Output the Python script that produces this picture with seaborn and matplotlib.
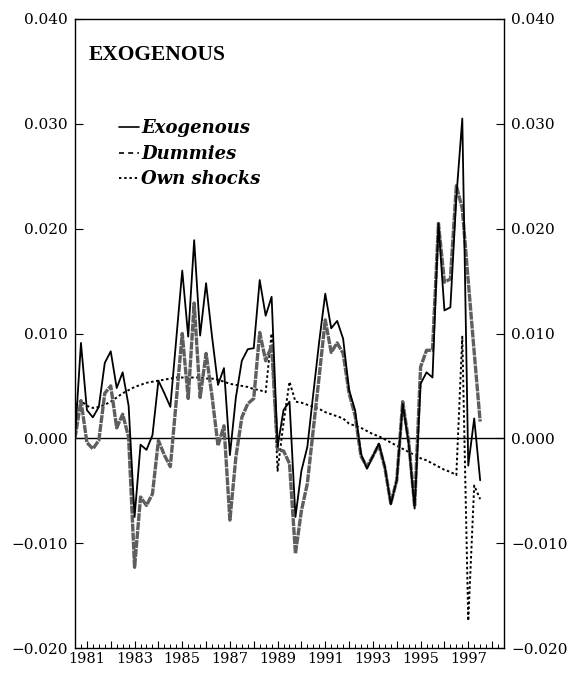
import numpy as np
import pandas as pd
import matplotlib
matplotlib.use("Agg")
import matplotlib.pyplot as plt
from matplotlib.lines import Line2D
from matplotlib.ticker import FixedLocator, MultipleLocator
import seaborn as sns

# Quarterly sample, 1980Q3 - 1997Q3
quarters = pd.period_range("1980Q3", "1997Q3", freq="Q")

exogenous = [
    0.0000, 0.0091, 0.0027, 0.0020, 0.0030, 0.0072, 0.0083, 0.0048, 0.0063, 0.0031,
    -0.0075, -0.0006, -0.0011, 0.0003, 0.0055, 0.0043, 0.0030, 0.0095, 0.0160, 0.0097,
    0.0189, 0.0098, 0.0148, 0.0097, 0.0051, 0.0067, -0.0016, 0.0039, 0.0074, 0.0085,
    0.0086, 0.0151, 0.0117, 0.0135, -0.0008, 0.0027, 0.0035, -0.0075, -0.0031, -0.0008,
    0.0043, 0.0093, 0.0138, 0.0105, 0.0112, 0.0095, 0.0046, 0.0027, -0.0015, -0.0029,
    -0.0017, -0.0005, -0.0027, -0.0063, -0.0040, 0.0033, -0.0005, -0.0067, 0.0052, 0.0063,
    0.0058, 0.0205, 0.0122, 0.0125, 0.0230, 0.0305, -0.0026, 0.0019, -0.0040,
]

dummies = [
    0.0000, 0.0036, -0.0004, -0.0010, -0.0002, 0.0043, 0.0050, 0.0010, 0.0023, 0.0001,
    -0.0123, -0.0056, -0.0064, -0.0053, -0.0002, -0.0016, -0.0027, 0.0036, 0.0100, 0.0038,
    0.0129, 0.0039, 0.0081, 0.0040, -0.0007, 0.0012, -0.0078, -0.0018, 0.0020, 0.0033,
    0.0038, 0.0101, 0.0074, 0.0088, -0.0011, -0.0012, -0.0024, -0.0110, -0.0069, -0.0043,
    0.0009, 0.0060, 0.0113, 0.0082, 0.0091, 0.0081, 0.0043, 0.0022, -0.0017, -0.0027,
    -0.0017, -0.0006, -0.0028, -0.0062, -0.0040, 0.0035, -0.0003, -0.0065, 0.0068, 0.0084,
    0.0084, 0.0205, 0.0149, 0.0152, 0.0241, 0.0219, 0.0150, 0.0082, 0.0016,
]

own_shocks = [
    0.0032, 0.0036, 0.0031, 0.0029, 0.0030, 0.0032, 0.0035, 0.0039, 0.0043, 0.0046,
    0.0049, 0.0051, 0.0053, 0.0054, 0.0055, 0.0056, 0.0057, 0.0058, 0.0058, 0.0058,
    0.0058, 0.0058, 0.0057, 0.0057, 0.0056, 0.0054, 0.0052, 0.0051, 0.0050, 0.0049,
    0.0047, 0.0046, 0.0044, 0.0100, -0.0031, 0.0015, 0.0054, 0.0035, 0.0034, 0.0032,
    0.0030, 0.0028, 0.0025, 0.0023, 0.0021, 0.0019, 0.0014, 0.0012, 0.0010, 0.0007,
    0.0004, 0.0002, -0.0001, -0.0004, -0.0007, -0.0010, -0.0013, -0.0016, -0.0019, -0.0021,
    -0.0024, -0.0027, -0.0030, -0.0032, -0.0035, 0.0097, -0.0174, -0.0045, -0.0058,
]

series_names = ["Exogenous", "Dummies", "Own shocks"]
y_ticks = [-0.020, -0.010, 0.000, 0.010, 0.020, 0.030, 0.040]
year_labels = [1981, 1983, 1985, 1987, 1989, 1991, 1993, 1995, 1997]

years = np.array([q.year + (q.quarter - 1) / 4 for q in quarters])
df = pd.DataFrame({
    "date": np.tile(years, 3),
    "value": exogenous + dummies + own_shocks,
    "series": np.repeat(series_names, len(years)),
})

sns.set_theme(style="ticks")
plt.rcParams["font.family"] = ["DejaVu Serif"]
plt.rcParams.update({"text.color": "black", "xtick.color": "black",
                     "ytick.color": "black", "axes.edgecolor": "black"})

fig = plt.figure(figsize=(5.76, 6.76), dpi=100)
ax = fig.add_axes([0.1302, 0.0414, 0.7448, 0.9305])

palette = {"Exogenous": "black", "Dummies": "#5e5e5e", "Own shocks": "black"}
dashes = {"Exogenous": "", "Dummies": (2.4, 0.3), "Own shocks": (1.3, 1.3)}
widths = {"Exogenous": 1.3, "Dummies": 2.4, "Own shocks": 1.4}

for name in ["Own shocks", "Dummies", "Exogenous"]:
    sub = df[df["series"] == name]
    sns.lineplot(data=sub, x="date", y="value", ax=ax, color=palette[name],
                 linewidth=widths[name], legend=False, zorder=3 if name == "Exogenous" else 2)
    line = ax.lines[-1]
    if dashes[name]:
        line.set_dashes(dashes[name])

ax.axhline(0.0, color="black", linewidth=1.0, zorder=1)

ax.set_xlim(1980.5, 1998.5)
ax.set_ylim(-0.020, 0.040)
ax.set_xlabel("")
ax.set_ylabel("")

ax.xaxis.set_major_locator(FixedLocator(list(range(1981, 1999))))
ax.set_xticklabels([str(y) if y in year_labels else "" for y in range(1981, 1999)])
ax.xaxis.set_minor_locator(MultipleLocator(0.25))
ax.tick_params(axis="x", which="major", direction="in", length=5, width=0.8,
               labelsize=10.5, pad=3, labelcolor="black")
ax.tick_params(axis="x", which="minor", direction="in", length=3, width=0.7)

ax.set_yticks(y_ticks)
ytl = [f"{v:.3f}".replace("-", "\u2212") for v in y_ticks]
ax.set_yticklabels(ytl)
ax.tick_params(axis="y", which="major", direction="in", length=6, width=0.8,
               labelsize=11, left=True, right=True, labelleft=True, labelright=True,
               pad=5, labelcolor="black")

for s in ax.spines.values():
    s.set_linewidth(1.0)
    s.set_color("black")

ax.text(0.032, 0.942, "EXOGENOUS", transform=ax.transAxes, fontsize=15.5,
        fontweight="bold", family="Liberation Serif", va="center", ha="left",
        color="black")

handles = [
    Line2D([], [], color="black", linewidth=1.2),
    Line2D([], [], color="black", linewidth=1.2, dashes=(3, 2.5)),
    Line2D([], [], color="black", linewidth=1.4, dashes=(1.2, 1.5)),
]
leg = ax.legend(handles, series_names, loc="upper left", bbox_to_anchor=(0.085, 0.852),
                frameon=False, handlelength=1.1, handletextpad=0.15, labelspacing=0.42,
                borderaxespad=0.0, prop={"family": "DejaVu Serif", "style": "italic",
                                         "weight": "bold", "size": 13})
for t in leg.get_texts():
    t.set_color("black")

fig.savefig("out.png", dpi=100, facecolor="white")
